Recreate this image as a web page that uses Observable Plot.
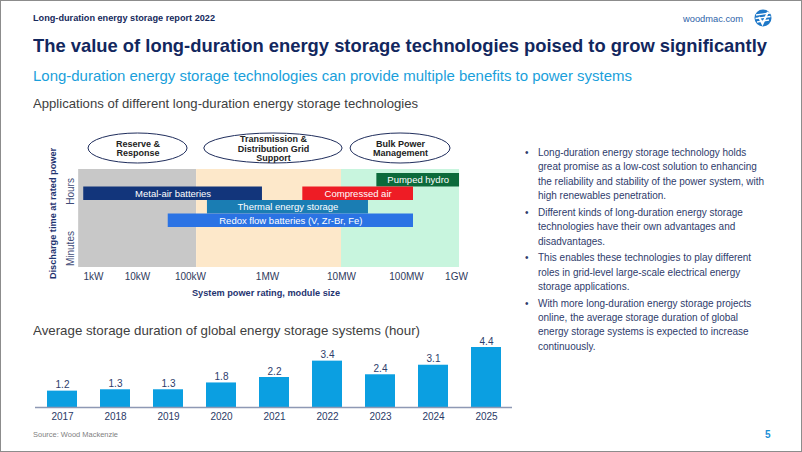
<!DOCTYPE html>
<html><head><meta charset="utf-8">
<script src="https://cdn.jsdelivr.net/npm/d3@7"></script>
<script src="https://cdn.jsdelivr.net/npm/@observablehq/plot@0.6"></script>
<style>
body{margin:0;background:#fff;}
#page{position:relative;width:802px;height:452px;overflow:hidden;background:#fff;font-family:"Liberation Sans",Arial,sans-serif;}
#frame{position:absolute;left:0;top:0;width:802px;height:452px;box-sizing:border-box;border:1px solid #8c8c8c;pointer-events:none;}
.t{position:absolute;white-space:nowrap;line-height:1;transform-origin:0 50%;}
.chart{position:absolute;left:0;}
.chart svg{overflow:visible;}
#bul{position:absolute;left:538px;top:146px;white-space:nowrap;font-size:10px;line-height:14.4px;color:#2e3c6c;transform-origin:0 0;}
#bul p{margin:0 0 2.2px 0;position:relative;}
#bul p span.b{position:absolute;left:-13px;top:0;}
</style></head><body>
<div id="page">
  <div class="t" data-w="182" style="left:33px;top:14px;font-size:9px;font-weight:bold;color:#15295b">Long-duration energy storage report 2022</div>
  <div class="t" data-w="60" style="left:683px;top:13.5px;font-size:9.5px;color:#2d62a8">woodmac.com</div>
  <svg style="position:absolute;left:754px;top:9px" width="18" height="18" viewBox="0 0 18 18">
    <circle cx="9" cy="9" r="8.5" fill="#1e78c8"/>
    <path d="M2 6 L16 4 M1.5 9.5 L16.5 7.5 M3 13 L15 11" stroke="#fff" stroke-width="1.3"/>
    <path d="M5 8 L8.5 15 L14 3" stroke="#fff" stroke-width="2" fill="none"/>
  </svg>
  <div class="t" data-w="734" style="left:33px;top:36px;font-size:19px;font-weight:bold;color:#12275e">The value of long-duration energy storage technologies poised to grow significantly</div>
  <div class="t" data-w="599" style="left:33px;top:68.7px;font-size:14.5px;color:#1a9fdb">Long-duration energy storage technologies can provide multiple benefits to power systems</div>
  <div class="t" data-w="385" style="left:33px;top:96.7px;font-size:13px;color:#404040">Applications of different long-duration energy storage technologies</div>
  <div class="t" data-w="387" style="left:33px;top:323.5px;font-size:13px;color:#404040">Average storage duration of global energy storage systems (hour)</div>
  <div class="t" data-w="85" style="left:33px;top:430.5px;font-size:7.5px;color:#7f7f7f">Source: Wood Mackenzie</div>
  <div class="t" style="left:765px;top:430px;font-size:10px;font-weight:bold;color:#1d8fd6">5</div>

  <div id="bul">
    <p><span class="b">•</span>Long-duration energy storage technology holds<br>great promise as a low-cost solution to enhancing<br>the reliability and stability of the power system, with<br>high renewables penetration.</p>
    <p><span class="b">•</span>Different kinds of long-duration energy storage<br>technologies have their own advantages and<br>disadvantages.</p>
    <p><span class="b">•</span>This enables these technologies to play different<br>roles in grid-level large-scale electrical energy<br>storage applications.</p>
    <p><span class="b">•</span>With more long-duration energy storage projects<br>online, the average storage duration of global<br>energy storage systems is expected to increase<br>continuously.</p>
  </div>

  <div class="chart" id="c0" style="top:132px"></div>
  <div class="chart" id="c1" style="top:165px"></div>
  <div class="chart" id="c2" style="top:335px"></div>
  <div id="frame"></div>
</div>
<script>
// ---------- Data: applications chart ----------
const techNames = ["Pumped hydro", "Metal-air batteries", "Compressed air", "Thermal energy storage", "Redox flow batteries (V, Zr-Br, Fe)"];
const techFromKW = [35000, 0.6, 3000, 166, 38];
const techToKW = [1150000, 860, 138000, 26000, 138000];
const techRow = [0, 1, 1, 2, 3];
const techColors = ["#0c6a3b", "#12357b", "#ee1c25", "#1a7db3", "#2b73e4"];

const regionFromKW = [0.46, 120, 10000];
const regionToKW = [120, 10000, 1150000];
const regionColors = ["#c8c8c8", "#fde8ca", "#c8f5de"];

const appLabels = ["Reserve &\nResponse", "Transmission &\nDistribution Grid\nSupport", "Bulk Power\nManagement"];
const appFromKW = [0.77, 151, 13800];
const appToKW = [88, 10400, 760000];

const durationLabels = ["Hours", "Minutes"];
const durationRow = [1.33, 5.56];

const tickValues = [1, 10, 100, 1000, 10000, 100000, 1000000];
const tickLabels = ["1kW", "10kW", "100kW", "1MW", "10MW", "100MW", "1GW"];

const yTitle = "Discharge time at rated power";
const xTitle = "System power rating, module size";

// ---------- Data: average duration chart ----------
const years = ["2017", "2018", "2019", "2020", "2021", "2022", "2023", "2024", "2025"];
const avgDuration = [1.2, 1.3, 1.3, 1.8, 2.2, 3.4, 2.4, 3.1, 4.4];

// ---------- Build ----------
const FONT = '"Liberation Sans", Arial, sans-serif';
const xOpts = {type: "log", domain: tickValues, range: [93, 137, 190, 267, 341, 406, 456]};
const xs = Plot.scale({x: xOpts});
const mid = (a, b) => xs.invert((xs.apply(a) + xs.apply(b)) / 2);

const bars = techNames.map((name, i) => ({name, from: techFromKW[i], to: techToKW[i], row: techRow[i], color: techColors[i], mid: mid(techFromKW[i], techToKW[i])}));
const regions = regionColors.map((color, i) => ({from: regionFromKW[i], to: regionToKW[i], color}));
const apps = appLabels.map((label, i) => ({label, from: appFromKW[i], to: appToKW[i], mid: mid(appFromKW[i], appToKW[i])}));
const durs = durationLabels.map((label, i) => ({label, row: durationRow[i]}));

const ell = Plot.plot({
  width: 480, height: 32, marginLeft: 78, marginRight: 21, marginTop: 1, marginBottom: 1,
  style: {fontFamily: FONT, background: "transparent", overflow: "visible"},
  x: {...xOpts, axis: null},
  marks: [
    Plot.rect(apps, {x1: "from", x2: "to", fill: "white", stroke: "#1f2d5c", strokeWidth: 1, rx: 1000, ry: 1000}),
    Plot.text(apps, {x: "mid", text: "label", fontWeight: "bold", fontSize: 9, lineHeight: 1.07, fill: "#222"})
  ]
});
document.getElementById("c0").appendChild(ell);

const main = Plot.plot({
  width: 480, height: 135, marginLeft: 78, marginRight: 21, marginTop: 4, marginBottom: 33,
  style: {fontFamily: FONT, fontSize: "10px", color: "#2f3a5c", background: "transparent", overflow: "visible"},
  x: {...xOpts, ticks: tickValues, tickFormat: d => tickLabels[tickValues.indexOf(d)], tickSize: 0, tickPadding: 5, label: null},
  y: {domain: [0, 4], range: [8, 62], axis: null},
  color: {type: "identity"},
  marks: [
    Plot.rect(regions, {x1: "from", x2: "to", fill: "color"}),
    Plot.rect(bars, {x1: "from", x2: "to", y1: "row", y2: d => d.row + 1, fill: "color"}),
    Plot.text(bars, {x: "mid", y: d => d.row + 0.5, text: "name", fill: "white", fontSize: 9.5}),
    Plot.text(durs, {y: "row", text: "label", frameAnchor: "left", textAnchor: "middle", lineAnchor: "middle", dx: -8, rotate: -90, fontSize: 10, fill: "#3f4c78"}),
    Plot.text([yTitle], {frameAnchor: "left", textAnchor: "middle", lineAnchor: "middle", dx: -25, dy: -5, rotate: -90, fontWeight: "bold", fontSize: 9.2, fill: "#1f3470"}),
    Plot.text([xTitle], {frameAnchor: "bottom", textAnchor: "middle", lineAnchor: "middle", dx: -3, dy: 26, fontWeight: "bold", fontSize: 9.2, fill: "#1f3470"})
  ]
});
document.getElementById("c1").appendChild(main);

const durData = years.map((year, i) => ({year, value: avgDuration[i]}));
const bar = Plot.plot({
  width: 520, height: 95, marginLeft: 35, marginRight: 8, marginTop: 12, marginBottom: 23,
  style: {fontFamily: FONT, fontSize: "10px", color: "#2b3a67", background: "transparent", overflow: "visible"},
  x: {domain: years, paddingInner: 0.434, paddingOuter: 0.217, tickSize: 0, tickPadding: 5, label: null},
  y: {domain: [0, 4.4], axis: null},
  marks: [
    Plot.barY(durData, {x: "year", y: "value", fill: "#0b9fe1"}),
    Plot.ruleY([0], {stroke: "#8e99b4", strokeWidth: 1.6}),
    Plot.text(durData, {x: "year", y: "value", text: d => d.value.toFixed(1), lineAnchor: "bottom", dy: -3, fill: "#2e3d6b", fontSize: 10})
  ]
});
document.getElementById("c2").appendChild(bar);

// fit HTML text widths to the reference
document.querySelectorAll("[data-w]").forEach(el => {
  const w = el.getBoundingClientRect().width;
  if (w > 0) el.style.transform = `scaleX(${(+el.dataset.w / w).toFixed(4)})`;
});
const bul = document.getElementById("bul");
const bw = bul.getBoundingClientRect().width;
if (bw > 0) bul.style.transform = `scaleX(${(226 / bw).toFixed(4)})`;
</script>
</body></html>
